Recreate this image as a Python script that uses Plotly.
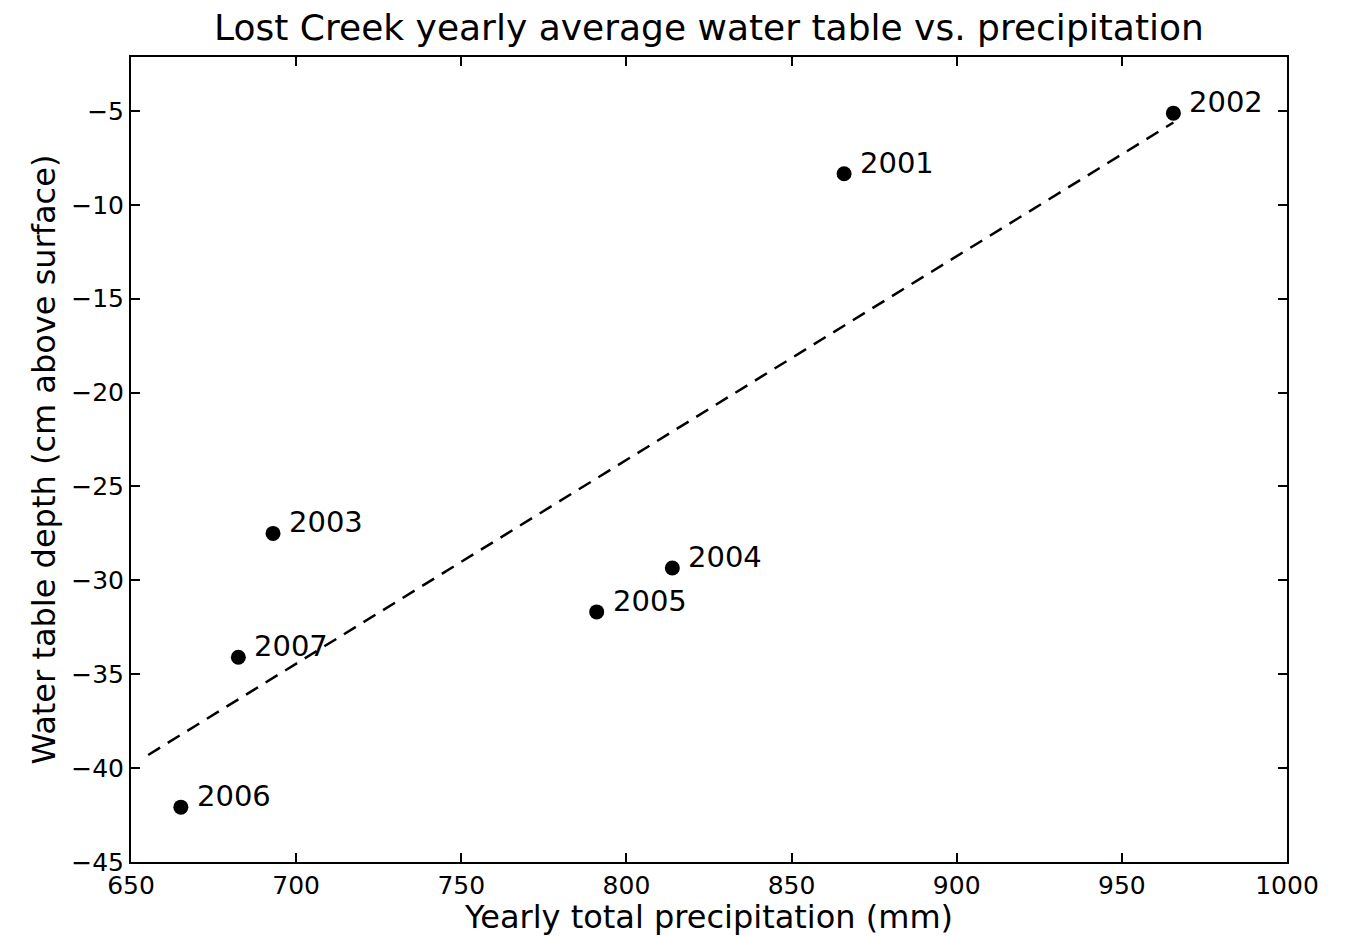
import plotly.graph_objects as go

years = ["2001", "2002", "2003", "2004", "2005", "2006", "2007"]
precip = [865.9, 965.6, 693.0, 813.9, 791.0, 665.1, 682.5]
depth = [-8.35, -5.12, -27.5, -29.34, -31.68, -42.08, -34.1]

fit_x = [655.2, 965.6]
fit_y = [-39.3, -5.62]

x_ticks = [650, 700, 750, 800, 850, 900, 950, 1000]
y_ticks = [-45, -40, -35, -30, -25, -20, -15, -10, -5]

FONT = "DejaVu Sans"

fig = go.Figure()
fig.add_trace(go.Scatter(x=fit_x, y=fit_y, mode="lines",
                         line=dict(color="black", width=2.5, dash="14px,9px"),
                         showlegend=False, hoverinfo="skip"))
fig.add_trace(go.Scatter(x=precip, y=depth, mode="markers",
                         marker=dict(color="black", size=15),
                         showlegend=False))

for yr, x, y in zip(years, precip, depth):
    fig.add_annotation(x=x, y=y, text=yr, showarrow=False,
                       xanchor="left", yanchor="middle",
                       xshift=14, yshift=11,
                       font=dict(family=FONT, size=29, color="black"))

axis_common = dict(showline=True, linewidth=2, linecolor="black", mirror="ticks",
                   ticks="inside", ticklen=9, tickwidth=2, tickcolor="black",
                   showgrid=False, zeroline=False,
                   tickfont=dict(family=FONT, size=25, color="black"))

fig.update_xaxes(range=[650, 1000], tickvals=x_ticks,
                 title=dict(text="Yearly total precipitation (mm)",
                            font=dict(family=FONT, size=32, color="black"), standoff=2),
                 **axis_common)
fig.update_yaxes(range=[-45, -2.13], tickvals=y_ticks,
                 title=dict(text="Water table depth (cm above surface)",
                            font=dict(family=FONT, size=32, color="black"), standoff=6),
                 **axis_common)

fig.update_layout(
    width=1345, height=936,
    margin=dict(l=131, r=58, t=57, b=72),
    paper_bgcolor="white", plot_bgcolor="white",
    title=dict(text="Lost Creek yearly average water table vs. precipitation",
               x=(131 + 1287) / 2 / 1345, xanchor="center", y=1 - 27 / 936, yanchor="middle",
               font=dict(family=FONT, size=36, color="black")),
)

fig.write_html("out.html")
